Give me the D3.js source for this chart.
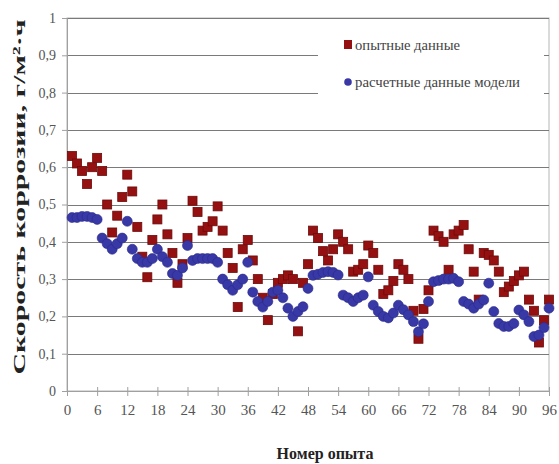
<!DOCTYPE html>
<html>
<head>
<meta charset="utf-8">
<script src="https://cdn.jsdelivr.net/npm/d3@7"></script>
<style>
  body { margin: 0; background: #fff; }
  text { font-family: "Liberation Serif", "Times New Roman", serif; }
</style>
</head>
<body>
<div id="chart"></div>
<script>
// experiment numbers 1..96
var experiments = d3.range(1, 97);

// "опытные данные" - measured corrosion rate
var measured = [
  0.63, 0.61, 0.59, 0.555, 0.60, 0.625,
  0.59, 0.50, 0.425, 0.47, 0.52, 0.58,
  0.535, 0.44, 0.36, 0.305, 0.405, 0.46,
  0.50, 0.42, 0.37, 0.29, 0.34, 0.41,
  0.51, 0.48, 0.43, 0.44, 0.455, 0.495,
  0.43, 0.37, 0.33, 0.225, 0.38, 0.405,
  0.35, 0.30, 0.25, 0.19, 0.26, 0.29,
  0.30, 0.31, 0.30, 0.16, 0.29, 0.34,
  0.43, 0.41, 0.375, 0.35, 0.38, 0.42,
  0.40, 0.38, 0.32, 0.325, 0.34, 0.39,
  0.37, 0.325, 0.26, 0.27, 0.295, 0.34,
  0.325, 0.30, 0.215, 0.14, 0.22, 0.27,
  0.43, 0.415, 0.40, 0.325, 0.42, 0.43,
  0.445, 0.38, 0.32, 0.245, 0.37, 0.365,
  0.35, 0.32, 0.265, 0.28, 0.295, 0.31,
  0.32, 0.245, 0.215, 0.13, 0.19, 0.245
];

// "расчетные данные модели" - model values
var model = [
  0.465, 0.465, 0.468, 0.468, 0.465, 0.46,
  0.41, 0.395, 0.38, 0.395, 0.41, 0.455,
  0.38, 0.355, 0.345, 0.345, 0.355, 0.38,
  0.36, 0.345, 0.315, 0.31, 0.33, 0.39,
  0.35, 0.355, 0.355, 0.355, 0.355, 0.345,
  0.30, 0.285, 0.27, 0.285, 0.30, 0.345,
  0.265, 0.24, 0.225, 0.24, 0.265, 0.27,
  0.25, 0.222, 0.20, 0.213, 0.226, 0.275,
  0.31, 0.313, 0.318, 0.32, 0.318, 0.311,
  0.257, 0.25, 0.24, 0.25, 0.257, 0.306,
  0.23, 0.213, 0.20, 0.196, 0.209, 0.23,
  0.218, 0.204, 0.186, 0.159, 0.18, 0.24,
  0.293, 0.296, 0.30, 0.30, 0.302, 0.293,
  0.24, 0.233, 0.222, 0.233, 0.244, 0.289,
  0.213, 0.181, 0.173, 0.173, 0.181, 0.217,
  0.204, 0.186, 0.146, 0.15, 0.17, 0.222
];

var xTicks = d3.range(0, 97, 6);
var yTicks = d3.range(0, 11).map(function(k) { return k / 10; });

var seriesNames = ["опытные данные", "расчетные данные модели"];

var w = 559;
var h = 464;
var plotLeft = 67, plotRight = 549, plotTop = 18, plotBottom = 391;

var svg = d3.select("#chart")
    .append("svg")
    .attr("width", w)
    .attr("height", h);

var xScale = d3.scaleLinear()
    .domain([0, 96])
    .range([plotLeft, plotRight]);

var yScale = d3.scaleLinear()
    .domain([0, 1])
    .range([plotBottom, plotTop]);

// plot area border
svg.append("rect")
    .attr("x", plotLeft)
    .attr("y", plotTop)
    .attr("width", plotRight - plotLeft)
    .attr("height", plotBottom - plotTop)
    .attr("fill", "none")
    .attr("stroke", "#b5b5b5");

// gridlines
svg.append("g")
    .selectAll("line")
    .data(yTicks.slice(1))
    .enter()
    .append("line")
    .attr("x1", plotLeft)
    .attr("x2", plotRight)
    .attr("y1", function(d) { return Math.round(yScale(d)) + 0.5; })
    .attr("y2", function(d) { return Math.round(yScale(d)) + 0.5; })
    .attr("stroke", "#7a7a7a")
    .attr("stroke-width", 1.2);

// y-axis
var yAxis = svg.append("g")
    .attr("transform", "translate(" + plotLeft + ",0)")
    .call(d3.axisLeft(yScale)
        .tickValues(yTicks)
        .tickSize(5)
        .tickPadding(6)
        .tickFormat(function(d) {
            return d === 0 ? "0" : d === 1 ? "1" : d3.format(".1f")(d).replace(".", ",");
        }));

// x-axis
var xAxis = svg.append("g")
    .attr("transform", "translate(0," + plotBottom + ")")
    .call(d3.axisBottom(xScale)
        .tickValues(xTicks)
        .tickSize(5)
        .tickPadding(8));

[yAxis, xAxis].forEach(function(ax) {
    ax.select(".domain").attr("stroke", "#a0a0a0");
    ax.selectAll(".tick line").attr("stroke", "#a0a0a0");
    ax.selectAll(".tick text")
        .attr("fill", "#555")
        .style("font-size", "14px")
        .style("font-family", "'Liberation Serif', serif");
});
xAxis.selectAll(".tick text").style("font-size", "15px");
xAxis.selectAll(".tick line").attr("y1", -4);

// measured points (squares)
svg.append("g")
    .selectAll("rect")
    .data(measured)
    .enter()
    .append("rect")
    .attr("x", function(d, i) { return xScale(experiments[i]) - 4.5; })
    .attr("y", function(d) { return yScale(d) - 4.5; })
    .attr("width", 9)
    .attr("height", 9)
    .attr("fill", "#951010")
    .attr("stroke", "#6e0a0a")
    .attr("stroke-width", 0.8);

// model points (circles)
svg.append("g")
    .selectAll("circle")
    .data(model)
    .enter()
    .append("circle")
    .attr("cx", function(d, i) { return xScale(experiments[i]); })
    .attr("cy", function(d) { return yScale(d); })
    .attr("r", 5)
    .attr("fill", "#3838a6")
    .attr("stroke", "#2a2a8a")
    .attr("stroke-width", 0.6);

// legend
var legend = svg.append("g");
legend.append("rect")
    .attr("x", 318)
    .attr("y", 30)
    .attr("width", 226)
    .attr("height", 72)
    .attr("fill", "#fff");

legend.append("rect")
    .attr("x", 344)
    .attr("y", 40)
    .attr("width", 8)
    .attr("height", 9)
    .attr("fill", "#951010");

legend.append("circle")
    .attr("cx", 348)
    .attr("cy", 82)
    .attr("r", 3.8)
    .attr("fill", "#3838a6");

legend.selectAll("text.leg")
    .data(seriesNames)
    .enter()
    .append("text")
    .attr("class", "leg")
    .attr("x", 355)
    .attr("y", function(d, i) { return 50 + i * 37; })
    .attr("fill", "#444")
    .attr("textLength", function(d, i) { return i === 0 ? 105 : 165; })
    .attr("lengthAdjust", "spacingAndGlyphs")
    .style("font-size", "14.5px")
    .text(function(d) { return d; });

// x-axis label
svg.append("text")
    .text("Номер опыта")
    .attr("x", 325)
    .attr("y", 459)
    .attr("text-anchor", "middle")
    .style("font-size", "16px")
    .style("font-weight", "bold")
    .attr("fill", "#222");

// y-axis label
svg.append("text")
    .text("Скорость коррозии, г/м²·ч")
    .attr("transform", "rotate(-90)")
    .attr("x", -197)
    .attr("y", 25)
    .attr("text-anchor", "middle")
    .attr("textLength", 355)
    .attr("lengthAdjust", "spacingAndGlyphs")
    .style("font-size", "17px")
    .style("font-weight", "bold")
    .attr("fill", "#222");
</script>
</body>
</html>
